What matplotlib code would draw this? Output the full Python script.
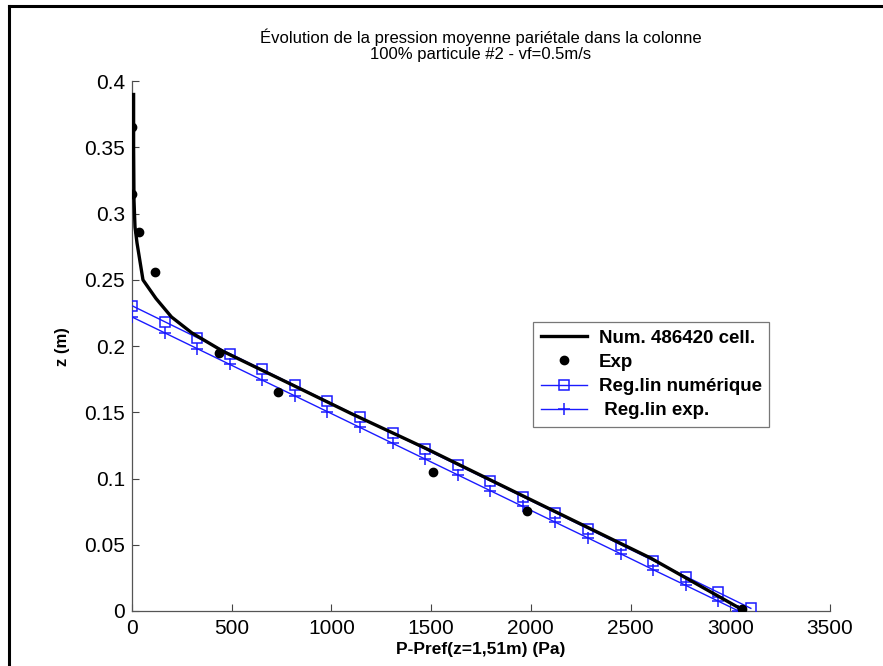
import matplotlib
matplotlib.use('Agg')
import matplotlib.pyplot as plt
from matplotlib.lines import Line2D

# courbe numérique (Num. 486420 cell.)
num_p = [8, 8, 10, 15, 25, 55, 120, 198, 300, 457, 800, 1100, 1470, 2000, 2600, 3048]
num_z = [0.39, 0.35, 0.31, 0.29, 0.278, 0.25, 0.236, 0.222, 0.210, 0.196, 0.171, 0.149, 0.123, 0.084, 0.040, 0.002]

# points expérimentaux
exp_p = [0, 0, 35, 117, 435, 733, 1510, 1980, 3058]
exp_z = [0.3655, 0.315, 0.2858, 0.256, 0.195, 0.165, 0.105, 0.0755, 0.0013]

# régression linéaire numérique
regnum_p = [0, 163, 327, 490, 653, 817, 980, 1143, 1307, 1470,
            1633, 1797, 1960, 2123, 2287, 2450, 2613, 2777, 2940, 3103]
regnum_z = [0.2305, 0.2185, 0.2064, 0.1944, 0.1824, 0.1703, 0.1583, 0.1463, 0.1343, 0.1222,
            0.1102, 0.0982, 0.0862, 0.0742, 0.0621, 0.0501, 0.0381, 0.0260, 0.0140, 0.0020]

# régression linéaire expérimentale
regexp_p = [0, 163, 327, 490, 653, 817, 980, 1143, 1307, 1470,
            1633, 1797, 1960, 2123, 2287, 2450, 2613, 2777, 2940, 3040]
regexp_z = [0.2220, 0.2101, 0.1981, 0.1862, 0.1743, 0.1624, 0.1505, 0.1386, 0.1266, 0.1147,
            0.1028, 0.0908, 0.0789, 0.0670, 0.0551, 0.0432, 0.0312, 0.0193, 0.0074, 0.0001]

xticks = [0, 500, 1000, 1500, 2000, 2500, 3000, 3500]
yticks = [0, 0.05, 0.1, 0.15, 0.2, 0.25, 0.3, 0.35, 0.4]
yticklabels = ['0', '0.05', '0.1', '0.15', '0.2', '0.25', '0.3', '0.35', '0.4']

plt.rcParams['font.family'] = ['Liberation Sans', 'DejaVu Sans']

fig = plt.figure(figsize=(8.83, 6.66), dpi=100)
ax = fig.add_axes([0.1495, 0.0826, 0.7905, 0.7954])

ax.plot(num_p, num_z, color='black', linewidth=2.4, label='Num. 486420 cell.', zorder=4)
ax.plot(exp_p, exp_z, linestyle='none', marker='o', markersize=6, color='black',
        label='Exp', zorder=5)
ax.plot(regnum_p, regnum_z, color='#1a1aff', linewidth=1.0, marker='s', markersize=7,
        markerfacecolor='none', markeredgewidth=1.1, label='Reg.lin numérique', zorder=3)
ax.plot(regexp_p, regexp_z, color='#1a1aff', linewidth=1.0, marker='+', markersize=9,
        markeredgewidth=1.1, label=' Reg.lin exp.', zorder=3)

ax.set_xlim(0, 3500)
ax.set_ylim(0, 0.4)
ax.set_xticks(xticks)
ax.set_yticks(yticks)
ax.set_yticklabels(yticklabels)
ax.tick_params(direction='in', length=5, width=0.8, labelsize=15, colors='#444444',
               labelcolor='black')
ax.tick_params(axis='x', pad=6)
ax.tick_params(axis='y', pad=5)
for s in ['top', 'right']:
    ax.spines[s].set_visible(False)
for s in ['left', 'bottom']:
    ax.spines[s].set_color('#555555')
    ax.spines[s].set_linewidth(0.9)

ax.set_xlabel('P-Pref(z=1,51m) (Pa)', fontsize=12.5, fontweight='bold', labelpad=3)
ax.set_ylabel('z (m)', fontsize=12, fontweight='bold', labelpad=10)
ax.set_title('Évolution de la pression moyenne pariétale dans la colonne\n'
             '100% particule #2 - vf=0.5m/s', fontsize=12, pad=16, linespacing=1.1)

leg = ax.legend(loc='upper left', bbox_to_anchor=(0.5745, 0.5455), borderaxespad=0,
                prop={'weight': 'bold', 'size': 13.5}, frameon=True, fancybox=False,
                edgecolor='#555555', borderpad=0.4, labelspacing=0.38, handlelength=2.5,
                handletextpad=0.6)
leg.get_frame().set_linewidth(0.9)

# cadre extérieur
fig.add_artist(Line2D([0.0102, 1.0], [1 - 6 / 666, 1 - 6 / 666], transform=fig.transFigure,
                      color='black', linewidth=2.2))
fig.add_artist(Line2D([0.0102, 0.0102], [0.0, 1 - 6 / 666], transform=fig.transFigure,
                      color='black', linewidth=2.2))

fig.savefig('out.png', dpi=100)
